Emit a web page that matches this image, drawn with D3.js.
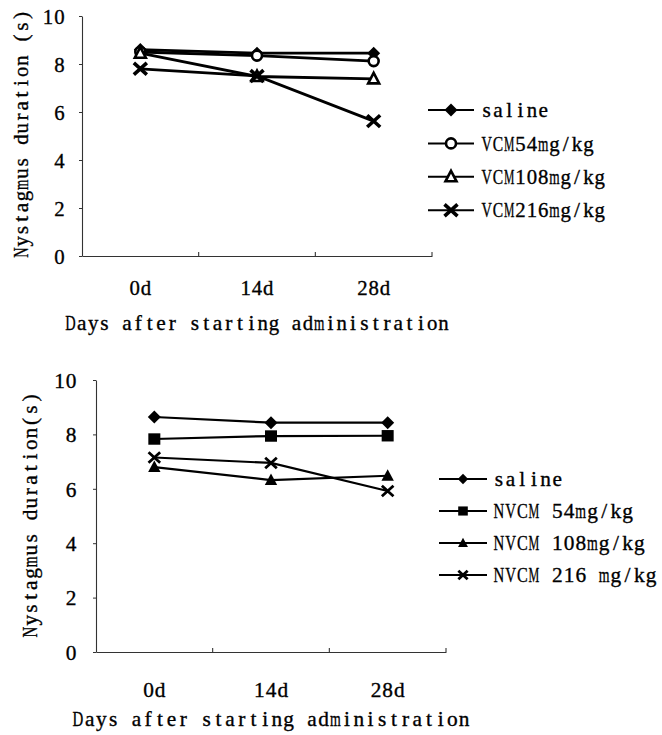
<!DOCTYPE html>
<html>
<head>
<meta charset="utf-8">
<script src="https://cdn.jsdelivr.net/npm/d3@7"></script>
<style>
  html, body { margin: 0; padding: 0; background: #fff; }
  svg { display: block; }
</style>
</head>
<body>
<svg id="chart" width="662" height="735"></svg>
<script>
// ---------- data ----------
const days = ["0d", "14d", "28d"];
const yTicks = [0, 2, 4, 6, 8, 10];

const topNames = ["saline", "VCM54mg/kg", "VCM108mg/kg", "VCM216mg/kg"];
const topSaline = [8.6, 8.45, 8.45];
const topVCM54 = [8.5, 8.35, 8.12];
const topVCM108 = [8.45, 7.48, 7.38];
const topVCM216 = [7.8, 7.5, 5.62];

const bottomNames = ["saline", "NVCM 54mg/kg", "NVCM 108mg/kg", "NVCM 216 mg/kg"];
const bottomSaline = [8.64, 8.43, 8.43];
const bottomNVCM54 = [7.83, 7.94, 7.95];
const bottomNVCM108 = [6.8, 6.32, 6.48];
const bottomNVCM216 = [7.15, 6.95, 5.92];

const yTitleTop = "Nystagmus duration (s)";
const yTitleBottom = "Nystagmus duration(s)";
const xTitle = "Days after starting administration";

// ---------- layout ----------
const FONT = "'Liberation Serif', 'DejaVu Serif', serif";
const SX = 0.97;
const svg = d3.select("#chart");

// monospaced-cell text: each character centred in its own cell of width cw,
// wide glyphs squeezed to fit their cell
function label(g, s, x, y, cw, fs, anchor) {
  const chars = Array.from(s);
  const total = chars.length * cw;
  const start = anchor === "middle" ? x - total / 2 : anchor === "end" ? x - total : x;
  const lg = g.append("g").attr("class", "lbl").attr("transform", `translate(${start},${y})`);
  chars.forEach((c, i) => {
    if (c === " ") return;
    const t = lg.append("text")
      .attr("text-anchor", "middle")
      .attr("font-family", FONT)
      .attr("font-size", fs)
      .attr("fill", "#000")
      .attr("stroke", "#000")
      .attr("stroke-width", 0.35)
      .text(c);
    const w = t.node().getComputedTextLength() || 1;
    const s2 = Math.min(SX, 0.92 * cw / w);
    t.attr("transform", `translate(${((i + 0.5) * cw).toFixed(2)},0) scale(${s2.toFixed(3)},1)`);
  });
  return lg;
}

function drawMarker(g, type, cx, cy, k) {
  if (type === "diamond") {
    const w = 6.5 * k, h = 6.5 * k;
    g.append("path").attr("d", `M${cx},${cy - h}L${cx + w},${cy}L${cx},${cy + h}L${cx - w},${cy}Z`)
      .attr("fill", "#000");
  } else if (type === "circle") {
    g.append("circle").attr("cx", cx).attr("cy", cy).attr("r", 5 * k)
      .attr("fill", "#fff").attr("stroke", "#000").attr("stroke-width", 2.6);
  } else if (type === "triOpen") {
    const w = 5.5 * k;
    g.append("path").attr("d", `M${cx},${cy - 6 * k}L${cx + w},${cy + 4.5 * k}L${cx - w},${cy + 4.5 * k}Z`)
      .attr("fill", "#fff").attr("stroke", "#000").attr("stroke-width", 2.6);
  } else if (type === "triFill") {
    const w = 6.2 * k;
    g.append("path").attr("d", `M${cx},${cy - 6.5 * k}L${cx + w},${cy + 5 * k}L${cx - w},${cy + 5 * k}Z`)
      .attr("fill", "#000");
  } else if (type === "square") {
    const w = 6 * k;
    g.append("rect").attr("x", cx - w).attr("y", cy - w * 0.95).attr("width", 2 * w).attr("height", 1.9 * w)
      .attr("fill", "#000");
  } else if (type === "xBold" || type === "xThin") {
    const w = (type === "xBold" ? 6.5 : 5.8) * k;
    const sw = type === "xBold" ? 3.6 : 2.8;
    g.append("path").attr("d", `M${cx - w},${cy - w * 0.9}L${cx + w},${cy + w * 0.9}M${cx - w},${cy + w * 0.9}L${cx + w},${cy - w * 0.9}`)
      .attr("stroke", "#000").attr("stroke-width", sw).attr("fill", "none");
  }
}

function panel(cfg) {
  const g = svg.append("g");
  const x = d3.scaleBand().domain(days).range([cfg.x0, cfg.x1]).padding(0);
  const y = d3.scaleLinear().domain([0, 10]).range([cfg.yBottom, cfg.yTop]);
  const mid = 0.33 * cfg.fs;

  // y axis
  const ya = g.append("g").attr("transform", `translate(${cfg.x0},0)`)
    .call(d3.axisLeft(y).tickValues(yTicks).tickSize(3).tickSizeOuter(0));
  ya.select(".domain").attr("stroke", "#333").attr("stroke-width", 1.1);
  ya.selectAll(".tick line").attr("stroke", "#333");
  ya.selectAll(".tick").each(function (d) {
    const tg = d3.select(this);
    tg.select("text").remove();
    label(tg, String(d), -cfg.yPad, mid, cfg.cw, cfg.fs, "end");
  });

  // x axis
  const xa = g.append("g").attr("transform", `translate(0,${cfg.yBottom})`)
    .call(d3.axisBottom(x).tickSize(0).tickSizeOuter(0));
  xa.select(".domain").attr("stroke", "#333").attr("stroke-width", 1.1);
  xa.selectAll(".tick").each(function (d) {
    const tg = d3.select(this);
    tg.select("text").remove();
    label(tg, d, 0, cfg.xLabelDy, cfg.cw, cfg.fs, "middle");
  });
  xa.selectAll(".edge").data(days).enter().append("line").attr("class", "edge")
    .attr("x1", d => x(d) + x.bandwidth()).attr("x2", d => x(d) + x.bandwidth())
    .attr("y1", 0).attr("y2", -4).attr("stroke", "#333").attr("stroke-width", 1.1);

  // titles
  const yt = g.append("g").attr("transform", `translate(${cfg.yTitleX},${cfg.yTitleY}) rotate(-90)`);
  label(yt, cfg.yTitle, 0, mid, cfg.cw, cfg.fs, "middle");
  label(g, xTitle, (cfg.x0 + cfg.x1) / 2, cfg.xTitleY, cfg.cw, cfg.fs, "middle");

  // lines
  const line = d3.line().x((d, i) => x(days[i]) + x.bandwidth() / 2).y(d => y(d));
  cfg.series.forEach(s => {
    g.append("path").datum(s.values).attr("d", line)
      .attr("fill", "none").attr("stroke", "#000").attr("stroke-width", cfg.lw);
  });
  cfg.series.forEach(s => {
    s.values.forEach((v, i) => drawMarker(g, s.marker, x(days[i]) + x.bandwidth() / 2, y(v), 1));
  });

  // legend
  cfg.series.forEach((s, i) => {
    const ly = cfg.legY + i * cfg.legStep;
    g.append("line").attr("x1", cfg.legX0).attr("x2", cfg.legX1).attr("y1", ly).attr("y2", ly)
      .attr("stroke", "#000").attr("stroke-width", cfg.legLw);
    drawMarker(g, s.marker, (cfg.legX0 + cfg.legX1) / 2, ly, cfg.legScale);
    label(g, s.name, cfg.legTextX, ly + mid, cfg.cw, cfg.fs, "start");
  });
}

panel({
  x0: 82, x1: 432, yTop: 16, yBottom: 256,
  fs: 22, cw: 11.3, yPad: 17, xLabelDy: 39,
  yTitle: yTitleTop, yTitleX: 21, yTitleY: 134, xTitleY: 330,
  lw: 2.8,
  series: [
    { name: topNames[0], values: topSaline, marker: "diamond" },
    { name: topNames[1], values: topVCM54, marker: "circle" },
    { name: topNames[2], values: topVCM108, marker: "triOpen" },
    { name: topNames[3], values: topVCM216, marker: "xBold" }
  ],
  legX0: 428, legX1: 474, legTextX: 481, legY: 110, legStep: 33.4, legLw: 2, legScale: 1
});

panel({
  x0: 96, x1: 446, yTop: 380, yBottom: 652,
  fs: 22, cw: 11.7, yPad: 19, xLabelDy: 45,
  yTitle: yTitleBottom, yTitleX: 30, yTitleY: 515, xTitleY: 726,
  lw: 2.2,
  series: [
    { name: bottomNames[0], values: bottomSaline, marker: "diamond" },
    { name: bottomNames[1], values: bottomNVCM54, marker: "square" },
    { name: bottomNames[2], values: bottomNVCM108, marker: "triFill" },
    { name: bottomNames[3], values: bottomNVCM216, marker: "xThin" }
  ],
  legX0: 439, legX1: 487, legTextX: 493, legY: 479, legStep: 32, legLw: 1.8, legScale: 0.8
});
</script>
</body>
</html>
